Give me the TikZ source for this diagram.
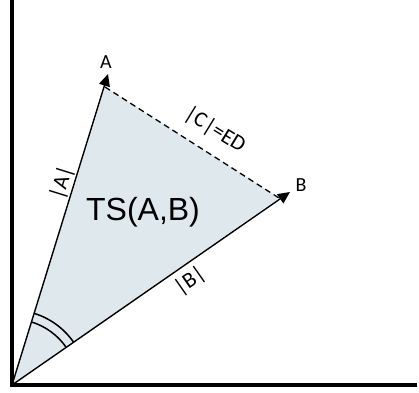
\documentclass[tikz,border=0pt]{standalone}
\usepackage{fontspec}
\setmainfont{Carlito}
\newfontfamily\arialf{Liberation Sans}
\usetikzlibrary{arrows.meta,calc}
\definecolor{tsfill}{rgb}{0.87,0.91,0.93}
\tikzset{
  vec/.style={line width=1.4pt,-{Triangle[length=12pt,width=11pt]}},
  axis/.style={line width=3.6pt},
  lab/.style={font=\fontsize{20}{20}\selectfont,inner sep=0pt},
  rlab/.style={font=\fontsize{22}{22}\selectfont,inner sep=0pt},
}
\begin{document}
\begin{tikzpicture}[x=1pt,y=1pt]
\useasboundingbox (0,0) rectangle (419,392);
\coordinate (O) at (12,7);
\coordinate (A) at (108,318);
\coordinate (B) at (290,200);
\coordinate (Ab) at (105,305);
\coordinate (Bb) at (279,194);
\coordinate (Ytop) at (12,392);
\coordinate (Xend) at (417,7);
\fill[tsfill] (O) -- (Ab) -- (Bb) -- cycle;
\draw[axis] (Ytop) -- (O.center) -- (Xend);
\draw[vec] (O) -- (A);
\draw[vec] (O) -- (B);
\draw[line width=1.3pt,dash pattern=on 6pt off 4pt] (Ab) -- (Bb);
\draw[line width=1.5pt] ($(O)+(34.9:66)$) arc[start angle=34.9,end angle=72.8,radius=66];
\draw[line width=1.5pt] ($(O)+(34.9:75)$) arc[start angle=34.9,end angle=72.8,radius=75];
\node[lab] (la) at (106,330) {A};
\node[lab] (lb) at (301,207) {B};
\node[rlab,rotate=-31.5] (lc) at (215,262) {|C|=ED};
\node[rlab,rotate=72.7] (laa) at (62,209) {|A|};
\node[rlab,rotate=35] (lbb) at (190,111) {|B|};
\node[font=\arialf\fontsize{32}{32}\selectfont,inner sep=0pt] (ts) at (143,180) {TS(A,B)};
\end{tikzpicture}
\end{document}
